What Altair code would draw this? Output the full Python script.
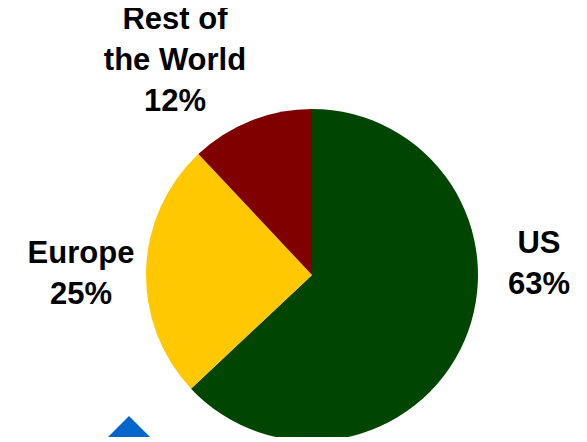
import altair as alt
import pandas as pd

categories = ["US", "Europe", "Rest of the World"]
label_lines = ["US", "Europe", "Rest of\nthe World"]
shares = [63, 25, 12]
colors = ["#004600", "#FFC800", "#800000"]

df = pd.DataFrame({
    "category": categories,
    "share": shares,
    "idx": list(range(len(categories))),
    "label": [f"{l}\n{s}%" for l, s in zip(label_lines, shares)],
})

CX, CY, R = 304, 267, 166

pie = alt.Chart(df).mark_arc(radius=R, stroke=None).encode(
    theta=alt.Theta("share:Q", stack=True),
    order=alt.Order("idx:Q"),
    color=alt.Color("category:N", scale=alt.Scale(domain=categories, range=colors), legend=None),
    x=alt.value(CX),
    y=alt.value(CY),
)

label_pos = {"US": (531, 245), "Europe": (73, 255), "Rest of the World": (167, 21)}

texts = []
for cat in categories:
    px, py = label_pos[cat]
    texts.append(
        alt.Chart(df).transform_filter(alt.datum.category == cat).mark_text(
            font="Liberation Sans", fontSize=31, fontWeight="bold", color="#000000",
            align="center", baseline="alphabetic", lineBreak="\n", lineHeight=41,
        ).encode(text="label:N", x=alt.value(px), y=alt.value(py))
    )

deco = alt.Chart(pd.DataFrame({"k": [0]})).mark_point(
    shape="diamond", filled=True, color="#0066CC", opacity=1, size=5476
).encode(x=alt.value(121), y=alt.value(445))

chart = alt.layer(pie, deco, *texts).properties(
    width=571, height=429, padding=0, autosize=alt.AutoSizeParams(type="none")
).configure_view(stroke=None)

chart.save("out.html", embed_options={"renderer": "svg", "actions": False})
